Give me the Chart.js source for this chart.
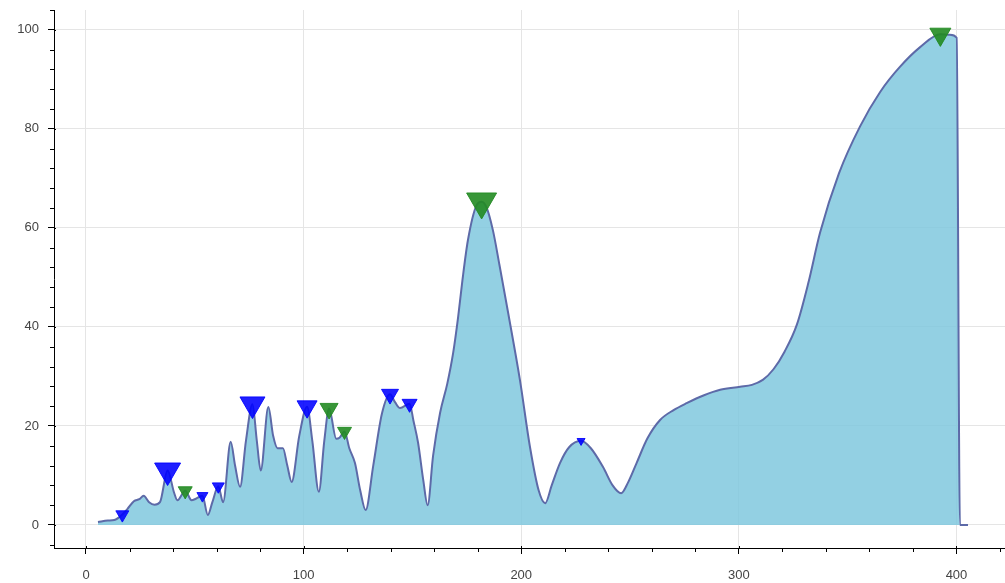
<!DOCTYPE html>
<html>
<head>
<meta charset="utf-8">
<script src="https://cdn.jsdelivr.net/npm/chart.js@4.4.0/dist/chart.umd.min.js"></script>
<style>
html, body { margin: 0; padding: 0; background: #fff; }
#wrap { width: 1005px; height: 583px; }
</style>
</head>
<body>
<div id="wrap"><canvas id="chart" width="1005" height="583"></canvas></div>
<script>
// ── Data ──
const curveX = [5.5, 10, 13, 16.7, 19, 22, 24.5, 26.5, 29, 31.5, 34, 37.5, 40.5, 42, 45.6, 48.5, 50.5, 53.5, 56, 58,
    60.8, 63, 66.5, 68.5, 70.8, 73.5, 76.5, 78.5, 80.3, 83.8, 86, 88, 90.5, 92.5, 94.5, 98, 101.6, 104, 107, 109.5,
    111.7, 115, 116.5, 118.8, 121, 123.6, 126, 128.5, 132, 136, 139.7, 142, 144.3, 148.7, 150.5, 152.6, 155, 157, 159.5, 162.7,
    166, 168.7, 171, 173, 175.5, 179.5, 181.8, 184, 187, 190, 194, 199.4, 204, 208, 211, 214, 217.8, 222, 227.5, 232,
    237.6, 242, 245.9, 249, 253, 258, 263.8, 270, 276, 284, 291.4, 300.6, 306, 311, 316, 321, 326.7, 332, 337.3, 346,
    355.7, 365, 374, 383.3, 392.6, 397, 400.1, 401.6, 405.3];
const curveY = [0.6, 0.9, 1.0, 2.1, 3.2, 4.8, 5.2, 5.9, 4.6, 4.1, 4.6, 11.0, 6.5, 5.0, 6.9, 5.0, 5.3, 5.9, 2.0, 4.5,
    7.8, 4.6, 16.8, 12, 7.7, 17, 24.4, 17, 11, 23.8, 18, 15.5, 15.5, 12, 8.7, 18, 23.9, 17, 6.7, 17,
    23.5, 17.4, 17.6, 18.9, 15.5, 12.5, 7, 3, 12, 22.5, 26.4, 24.8, 23.6, 24.5, 21, 16.6, 9, 4, 14, 22.6,
    28.5, 34.7, 42, 49.5, 57.5, 64.6, 65.3, 64.2, 59.5, 52.5, 42.8, 29.3, 15.8, 7, 4.4, 8, 12.5, 15.7, 17, 15.5,
    11.7, 8, 6.4, 8.5, 12.5, 17.5, 21.2, 23.2, 24.6, 26.2, 27.3, 27.9, 28.3, 29.3, 31.5, 35, 40.5, 49, 59, 71,
    80.5, 87.5, 92.5, 96.5, 99.1, 99, 98.4, 0, 0];

const blueX = [16.7, 37.5, 53.5, 60.8, 76.5, 101.6, 139.7, 148.7, 227.5];
const blueY = [2.1, 11.0, 5.9, 7.8, 24.4, 23.9, 26.4, 24.5, 17];
const blueSize = [13, 26, 11, 12, 25, 20, 17, 15, 8];

const greenX = [45.6, 111.7, 118.8, 181.8, 392.6];
const greenY = [6.9, 23.5, 18.9, 65.3, 99.1];
const greenSize = [14, 18, 14, 30, 21];

const xMajor = [0, 100, 200, 300, 400];
const xMinor = [20, 40, 60, 80, 120, 140, 160, 180, 220, 240, 260, 280, 320, 340, 360, 380, 420];
const yMajor = [0, 20, 40, 60, 80, 100];
const yMinor = [-4, 4, 8, 12, 16, 24, 28, 32, 36, 44, 48, 52, 56, 64, 68, 72, 76, 84, 88, 92, 96, 104];

const X_MIN = -14.7, X_MAX = 422.3;
const Y_MIN = -4.65, Y_MAX = 104;

// ── Helpers ──
const toPoints = (xs, ys) => xs.map((x, i) => ({ x, y: ys[i] }));
const radii = sizes => sizes.map(s => s / Math.sqrt(3));

// Bokeh-style ticks: major out 6 / in 2, minor out 4
const axisTicks = {
    id: 'axisTicks',
    afterDraw(chart) {
        const { ctx, chartArea, scales } = chart;
        const xs = scales.x, ys = scales.y;
        ctx.save();
        ctx.strokeStyle = '#000';
        ctx.lineWidth = 1;
        ctx.beginPath();
        xMinor.forEach(v => {
            const px = Math.round(xs.getPixelForValue(v)) + 0.5;
            if (px < chartArea.left || px > chartArea.right + 1) return;
            ctx.moveTo(px, chartArea.bottom);
            ctx.lineTo(px, chartArea.bottom + 4);
        });
        xMajor.forEach(v => {
            const px = Math.round(xs.getPixelForValue(v)) + 0.5;
            ctx.moveTo(px, chartArea.bottom - 2);
            ctx.lineTo(px, chartArea.bottom);
        });
        yMinor.forEach(v => {
            const py = Math.round(ys.getPixelForValue(v)) + 0.5;
            if (py < chartArea.top || py > chartArea.bottom) return;
            ctx.moveTo(chartArea.left, py);
            ctx.lineTo(chartArea.left - 4, py);
        });
        yMajor.forEach(v => {
            const py = Math.round(ys.getPixelForValue(v)) + 0.5;
            ctx.moveTo(chartArea.left, py);
            ctx.lineTo(chartArea.left + 2, py);
        });
        ctx.stroke();
        ctx.restore();
    }
};

const tickFont = { family: "'Liberation Sans', Arial, sans-serif", size: 13 };

// fixed axis boxes, no label overhang padding
const fixX = s => { s.height = 35; s.paddingLeft = 0; s.paddingRight = 0; s.paddingTop = 0; s.paddingBottom = 0; };
const fixY = s => { s.width = 54; s.paddingLeft = 0; s.paddingRight = 0; s.paddingTop = 0; s.paddingBottom = 0; };

new Chart(document.getElementById('chart'), {
    type: 'line',
    data: {
        datasets: [
            {
                type: 'scatter',
                data: toPoints(greenX, greenY),
                pointStyle: 'triangle',
                rotation: 180,
                pointRadius: radii(greenSize),
                backgroundColor: 'rgba(34, 139, 34, 0.9)',
                borderColor: 'rgba(34, 139, 34, 0.9)',
                borderWidth: 1,
                order: 0,
            },
            {
                type: 'scatter',
                data: toPoints(blueX, blueY),
                pointStyle: 'triangle',
                rotation: 180,
                pointRadius: radii(blueSize),
                backgroundColor: 'rgba(0, 0, 255, 0.88)',
                borderColor: 'rgba(0, 0, 255, 0.88)',
                borderWidth: 1,
                order: 1,
            },
            {
                data: toPoints(curveX, curveY),
                borderColor: '#5d6aa8',
                backgroundColor: 'rgba(128, 200, 222, 0.85)',
                borderWidth: 2,
                fill: 'origin',
                pointRadius: 0,
                cubicInterpolationMode: 'monotone',
                order: 2,
            },
        ]
    },
    options: {
        responsive: false,
        animation: false,
        devicePixelRatio: 1,
        layout: { autoPadding: false, padding: { top: 10, right: 0, left: 0, bottom: 0 } },
        plugins: { legend: { display: false }, tooltip: { enabled: false } },
        scales: {
            x: {
                type: 'linear',
                min: X_MIN,
                max: X_MAX,
                afterBuildTicks: s => { s.ticks = xMajor.map(v => ({ value: v })); },
                afterFit: fixX,
                grid: { color: '#e5e5e5', tickColor: '#000', tickLength: 6, lineWidth: 1 },
                border: { color: '#000', width: 1 },
                ticks: { color: '#444', font: tickFont, padding: 14, maxRotation: 0 },
            },
            y: {
                type: 'linear',
                min: Y_MIN,
                max: Y_MAX,
                afterBuildTicks: s => { s.ticks = yMajor.map(v => ({ value: v })); },
                afterFit: fixY,
                grid: { color: '#e5e5e5', tickColor: '#000', tickLength: 6, lineWidth: 1 },
                border: { color: '#000', width: 1 },
                ticks: { color: '#444', font: tickFont, padding: 9 },
            },
        },
    },
    plugins: [axisTicks],
});
</script>
</body>
</html>
